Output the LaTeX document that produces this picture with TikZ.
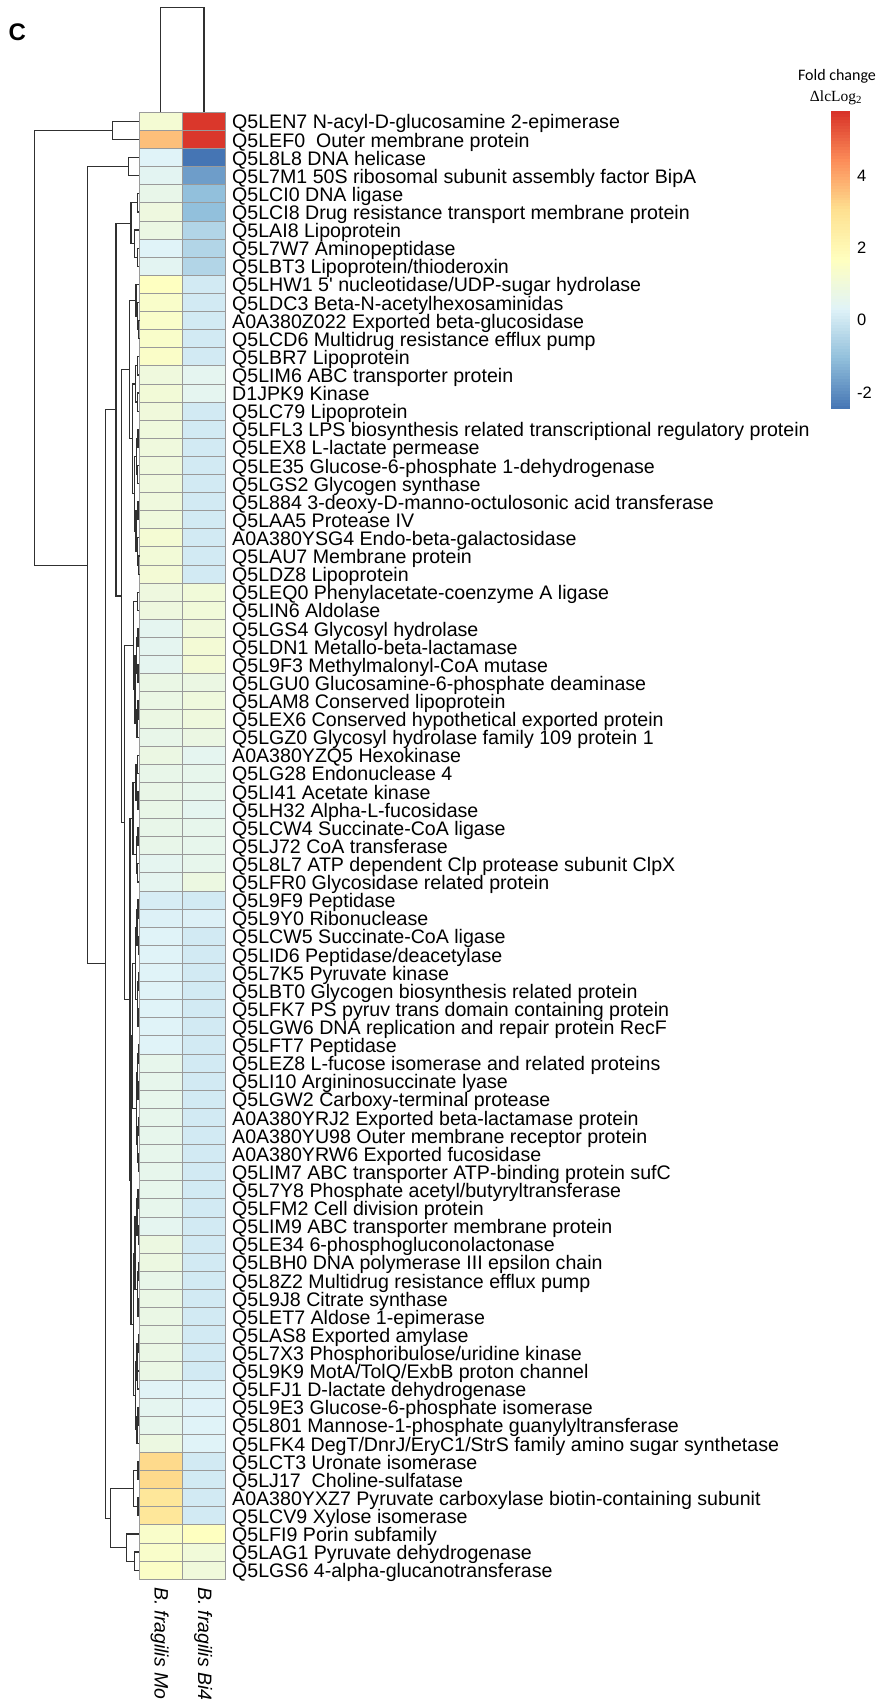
\documentclass[tikz,border=0pt]{standalone}
\usepackage{fontspec}
\setmainfont{Liberation Sans}
\newfontfamily\carl{Carlito}
\newfontfamily\lserif{Liberation Serif}
\usetikzlibrary{calc}

\definecolor{hc0}{HTML}{4575B4}
\definecolor{hc1}{HTML}{91BFDB}
\definecolor{hc2}{HTML}{E0F3F8}
\definecolor{hc3}{HTML}{FFFFBF}
\definecolor{hc4}{HTML}{FEE090}
\definecolor{hc5}{HTML}{FC8D59}
\definecolor{hc6}{HTML}{D73027}
\definecolor{cellline}{HTML}{9A9A9A}
\definecolor{dend}{HTML}{303030}

% value -> colour (palette spread over -2.45 .. 5.8)
\newcommand\valcol[2]{%
  \pgfmathsetmacro\hmt{max(0,min(5.999,(#1+2.45)/1.375))}%
  \pgfmathtruncatemacro\hmk{floor(\hmt)}%
  \pgfmathtruncatemacro\hmkk{\hmk+1}%
  \pgfmathsetmacro\hmp{100*(1-(\hmt-\hmk))}%
  \colorlet{#2}{hc\hmk!\hmp!hc\hmkk}%
}

\tikzset{
  cell/.style={draw=cellline, line width=0.9pt},
  rowlab/.style={anchor=base west, inner sep=0pt, font=\fontsize{19.6}{19.6}\selectfont},
  collab/.style={rotate=-90, anchor=base west, inner sep=0pt, font=\itshape\fontsize{19.4}{19.4}\selectfont},
  ticklab/.style={anchor=west, inner sep=0pt, font=\fontsize{16.5}{16.5}\selectfont},
  dendro/.style={draw=dend, line width=1.2pt},
}

\newcommand\hrow[4]{%
  \valcol{#2}{cola}\valcol{#3}{colb}%
  \path[cell, fill=cola] (139,{112.3+18.11*(#1-1)}) rectangle (182.3,{112.3+18.11*#1});
  \path[cell, fill=colb] (182.3,{112.3+18.11*(#1-1)}) rectangle (225.5,{112.3+18.11*#1});
  \node[rowlab] (lab#1) at (232,{112.3+18.11*(#1-0.5)+7.6}) {#4};
  \coordinate (L#1) at (139,{112.3+18.11*(#1-0.5)});
}

% merge: name, height, child a, child b
\newcommand\mg[4]{%
  \coordinate (#1m) at ($(#3)!0.5!(#4)$);
  \coordinate (#1x) at (#2,0);
  \coordinate (#1) at (#1m -| #1x);
  \draw[dendro] (#3) -- (#3 -| #1) -- (#4 -| #1) -- (#4);
}

\begin{document}
\begin{tikzpicture}[x=1pt,y=-1pt]
\fill[white] (0,0) rectangle (883,1700);
\useasboundingbox (0,0) rectangle (883,1700);

\node[anchor=base west, inner sep=0pt, font=\bfseries\fontsize{24}{24}\selectfont] (panel) at (8.5,40.3) {C};

\hrow{1}{1.2}{5.7}{Q5LEN7 N-acyl-D-glucosamine 2-epimerase}
\hrow{2}{3.6}{5.7}{Q5LEF0\ \ Outer membrane protein}
\hrow{3}{0.3}{-2.45}{Q5L8L8 DNA helicase}
\hrow{4}{0.45}{-1.7}{Q5L7M1 50S ribosomal subunit assembly factor BipA}
\hrow{5}{0.65}{-1.05}{Q5LCI0 DNA ligase}
\hrow{6}{0.9}{-1.05}{Q5LCI8 Drug resistance transport membrane protein}
\hrow{7}{0.8}{-0.5}{Q5LAI8 Lipoprotein}
\hrow{8}{0.3}{-0.5}{Q5L7W7 Aminopeptidase}
\hrow{9}{0.45}{-0.5}{Q5LBT3 Lipoprotein/thioderoxin}
\hrow{10}{1.62}{0.05}{Q5LHW1 5\textquotesingle\ nucleotidase/UDP-sugar hydrolase}
\hrow{11}{1.4}{0.05}{Q5LDC3 Beta-N-acetylhexosaminidas}
\hrow{12}{1.4}{0.05}{A0A380Z022 Exported beta-glucosidase}
\hrow{13}{1.4}{0.05}{Q5LCD6 Multidrug resistance efflux pump}
\hrow{14}{1.45}{0.05}{Q5LBR7 Lipoprotein}
\hrow{15}{0.95}{0.5}{Q5LIM6 ABC transporter protein}
\hrow{16}{1.1}{0.5}{D1JPK9 Kinase}
\hrow{17}{1.0}{0.05}{Q5LC79 Lipoprotein}
\hrow{18}{0.95}{0.05}{Q5LFL3 LPS biosynthesis related transcriptional regulatory protein}
\hrow{19}{0.95}{0.05}{Q5LEX8 L-lactate permease}
\hrow{20}{0.95}{0.05}{Q5LE35 Glucose-6-phosphate 1-dehydrogenase}
\hrow{21}{0.95}{0.05}{Q5LGS2 Glycogen synthase}
\hrow{22}{0.95}{0.05}{Q5L884 3-deoxy-D-manno-octulosonic acid transferase}
\hrow{23}{0.95}{0.05}{Q5LAA5 Protease IV}
\hrow{24}{1.2}{0.05}{A0A380YSG4 Endo-beta-galactosidase}
\hrow{25}{1.1}{0.05}{Q5LAU7 Membrane protein}
\hrow{26}{1.15}{0.05}{Q5LDZ8 Lipoprotein}
\hrow{27}{0.9}{1.05}{Q5LEQ0 Phenylacetate-coenzyme A ligase}
\hrow{28}{0.9}{1.05}{Q5LIN6 Aldolase}
\hrow{29}{0.5}{1.0}{Q5LGS4 Glycosyl hydrolase}
\hrow{30}{0.5}{1.15}{Q5LDN1 Metallo-beta-lactamase}
\hrow{31}{0.5}{1.15}{Q5L9F3 Methylmalonyl-CoA mutase}
\hrow{32}{0.75}{0.8}{Q5LGU0 Glucosamine-6-phosphate deaminase}
\hrow{33}{0.75}{0.95}{Q5LAM8 Conserved lipoprotein}
\hrow{34}{0.8}{0.95}{Q5LEX6 Conserved hypothetical exported protein}
\hrow{35}{0.65}{0.8}{Q5LGZ0 Glycosyl hydrolase family 109 protein 1}
\hrow{36}{0.8}{0.5}{A0A380YZQ5 Hexokinase}
\hrow{37}{0.65}{0.6}{Q5LG28 Endonuclease 4}
\hrow{38}{0.7}{0.6}{Q5LI41 Acetate kinase}
\hrow{39}{0.7}{0.5}{Q5LH32 Alpha-L-fucosidase}
\hrow{40}{0.65}{0.6}{Q5LCW4 Succinate-CoA ligase}
\hrow{41}{0.65}{0.6}{Q5LJ72 CoA transferase}
\hrow{42}{0.5}{0.6}{Q5L8L7 ATP dependent Clp protease subunit ClpX}
\hrow{43}{0.5}{0.85}{Q5LFR0 Glycosidase related protein}
\hrow{44}{0.15}{0.05}{Q5L9F9 Peptidase}
\hrow{45}{0.25}{0.25}{Q5L9Y0 Ribonuclease}
\hrow{46}{0.3}{0.05}{Q5LCW5 Succinate-CoA ligase}
\hrow{47}{0.3}{0.05}{Q5LID6 Peptidase/deacetylase}
\hrow{48}{0.3}{0.05}{Q5L7K5 Pyruvate kinase}
\hrow{49}{0.3}{0.05}{Q5LBT0 Glycogen biosynthesis related protein}
\hrow{50}{0.3}{0.05}{Q5LFK7 PS pyruv trans domain containing protein}
\hrow{51}{0.3}{0.05}{Q5LGW6 DNA replication and repair protein RecF}
\hrow{52}{0.3}{0.05}{Q5LFT7 Peptidase}
\hrow{53}{0.6}{0.05}{Q5LEZ8 L-fucose isomerase and related proteins}
\hrow{54}{0.6}{0.05}{Q5LI10 Argininosuccinate lyase}
\hrow{55}{0.6}{0.05}{Q5LGW2 Carboxy-terminal protease}
\hrow{56}{0.6}{0.05}{A0A380YRJ2 Exported beta-lactamase protein}
\hrow{57}{0.6}{0.05}{A0A380YU98 Outer membrane receptor protein}
\hrow{58}{0.6}{0.05}{A0A380YRW6 Exported fucosidase}
\hrow{59}{0.6}{0.05}{Q5LIM7 ABC transporter ATP-binding protein sufC}
\hrow{60}{0.6}{0.05}{Q5L7Y8 Phosphate acetyl/butyryltransferase}
\hrow{61}{0.6}{0.05}{Q5LFM2 Cell division protein}
\hrow{62}{0.5}{0.05}{Q5LIM9 ABC transporter membrane protein}
\hrow{63}{0.85}{0.05}{Q5LE34 6-phosphogluconolactonase}
\hrow{64}{0.85}{0.05}{Q5LBH0 DNA polymerase III epsilon chain}
\hrow{65}{0.65}{0.05}{Q5L8Z2 Multidrug resistance efflux pump}
\hrow{66}{0.75}{0.05}{Q5L9J8 Citrate synthase}
\hrow{67}{0.75}{0.05}{Q5LET7 Aldose 1-epimerase}
\hrow{68}{0.75}{0.05}{Q5LAS8 Exported amylase}
\hrow{69}{0.75}{0.05}{Q5L7X3 Phosphoribulose/uridine kinase}
\hrow{70}{0.75}{0.05}{Q5L9K9 MotA/TolQ/ExbB proton channel}
\hrow{71}{0.35}{0.25}{Q5LFJ1 D-lactate dehydrogenase}
\hrow{72}{0.5}{0.28}{Q5L9E3 Glucose-6-phosphate isomerase}
\hrow{73}{0.6}{0.3}{Q5L801 Mannose-1-phosphate guanylyltransferase}
\hrow{74}{0.85}{0.3}{Q5LFK4 DegT/DnrJ/EryC1/StrS family amino sugar synthetase}
\hrow{75}{3.15}{0.05}{Q5LCT3 Uronate isomerase}
\hrow{76}{3.15}{0.05}{Q5LJ17\ \ Choline-sulfatase}
\hrow{77}{2.75}{0.05}{A0A380YXZ7 Pyruvate carboxylase biotin-containing subunit}
\hrow{78}{2.75}{0.05}{Q5LCV9 Xylose isomerase}
\hrow{79}{1.4}{1.65}{Q5LFI9 Porin subfamily}
\hrow{80}{1.4}{1.05}{Q5LAG1 Pyruvate dehydrogenase}
\hrow{81}{1.5}{1.0}{Q5LGS6 4-alpha-glucanotransferase}

% column labels
\node[collab] (col1) at (154.5,1587) {B. fragilis Mo};
\node[collab] (col2) at (198,1587) {B. fragilis Bi4};

% column dendrogram
\coordinate (K1) at (160.7,112.3);
\coordinate (K2) at (204,112.3);
\coordinate (Ktop) at (0,7.3);
\draw[dendro] (K1) -- (K1 |- Ktop) -- (K2 |- Ktop) -- (K2);

% row dendrogram
\mg{m12}{112.3}{L1}{L2}
\mg{m34}{128.3}{L3}{L4}
\mg{m56}{137.3}{L5}{L6}
\mg{m89}{137.5}{L8}{L9}
\mg{m7n9}{134.3}{L7}{m89}
\mg{nA1}{131}{m56}{m7n9}
\mg{m1213}{138.5}{L12}{L13}
\mg{m11n13}{137.5}{L11}{m1213}
\mg{nA2a1}{136}{L10}{m11n13}
\mg{m1415}{137.3}{L14}{L15}
\mg{m1617}{137.8}{L16}{L17}
\mg{m14n17}{135.5}{m1415}{m1617}
\mg{m1819}{138}{L18}{L19}
\mg{m2021}{137.5}{L20}{L21}
\mg{m18n21}{136.5}{m1819}{m2021}
\mg{m2223}{138}{L22}{L23}
\mg{m2526}{138.5}{L25}{L26}
\mg{m24n26}{137.3}{L24}{m2526}
\mg{m22n26}{136}{m2223}{m24n26}
\mg{m18n26}{134.5}{m18n21}{m22n26}
\mg{nA2a2}{132.3}{m14n17}{m18n26}
\mg{nA2a}{129.3}{nA2a1}{nA2a2}
\mg{m2728}{137.5}{L27}{L28}
\mg{m2930}{138}{L29}{L30}
\mg{m3132}{138}{L31}{L32}
\mg{m29n32}{136.5}{m2930}{m3132}
\mg{m3334}{138}{L33}{L34}
\mg{m33n35}{137}{m3334}{L35}
\mg{nP2}{135}{m29n32}{m33n35}
\mg{nP}{133.3}{m2728}{nP2}
\mg{m3637}{137.5}{L36}{L37}
\mg{m3839}{138}{L38}{L39}
\mg{m36n39}{136}{m3637}{m3839}
\mg{m4041}{138}{L40}{L41}
\mg{m4243}{137.8}{L42}{L43}
\mg{m40n43}{136.5}{m4041}{m4243}
\mg{nQ1}{133}{m36n39}{m40n43}
\mg{m4445}{138}{L44}{L45}
\mg{m4647}{138.3}{L46}{L47}
\mg{m44n47}{137}{m4445}{m4647}
\mg{m4849}{138.3}{L48}{L49}
\mg{m5051}{138}{L50}{L51}
\mg{m48n51}{137.3}{m4849}{m5051}
\mg{nS1}{135.5}{m44n47}{m48n51}
\mg{m5253}{138.3}{L52}{L53}
\mg{m5455}{138}{L54}{L55}
\mg{m52n55}{137.5}{m5253}{m5455}
\mg{m5657}{138.3}{L56}{L57}
\mg{m5859}{138.3}{L58}{L59}
\mg{m56n59}{137.8}{m5657}{m5859}
\mg{nS2}{136.5}{m52n55}{m56n59}
\mg{nS}{132.5}{nS1}{nS2}
\mg{m6061}{138}{L60}{L61}
\mg{m6263}{138.3}{L62}{L63}
\mg{m60n63}{137}{m6061}{m6263}
\mg{m6465}{138.3}{L64}{L65}
\mg{m6667}{138}{L66}{L67}
\mg{m64n67}{137.5}{m6465}{m6667}
\mg{nR1}{135}{m60n63}{m64n67}
\mg{m6869}{138.3}{L68}{L69}
\mg{m7071}{137.5}{L70}{L71}
\mg{m68n71}{137}{m6869}{m7071}
\mg{m7273}{138}{L72}{L73}
\mg{m72n74}{137}{m7273}{L74}
\mg{nR2}{135.5}{m68n71}{m72n74}
\mg{nR}{133.3}{nR1}{nR2}
\mg{nQ2}{131}{nS}{nR}
\mg{nQ}{130}{nQ1}{nQ2}
\mg{nA2b}{124.3}{nP}{nQ}
\mg{nA2}{121.7}{nA2a}{nA2b}
\mg{nA}{116}{nA1}{nA2}
\mg{m7576}{138}{L75}{L76}
\mg{m7778}{138}{L77}{L78}
\mg{nB1}{133.3}{m7576}{m7778}
\mg{m8081}{134.3}{L80}{L81}
\mg{nB2}{126.7}{L79}{m8081}
\mg{nB}{110.7}{nB1}{nB2}
\mg{nC}{105.3}{nA}{nB}
\mg{nD}{87.3}{m34}{nC}
\mg{nRoot}{34.7}{m12}{nD}

% colour legend
\node[anchor=base, inner sep=0pt, font=\carl\fontsize{16}{16}\selectfont] (lt1) at (837,80.7) {Fold change};
\node[anchor=base, inner sep=0pt, font=\lserif\fontsize{15.5}{15.5}\selectfont] (lt2) at (836,101) {ΔlcLog\textsubscript{2}};
\foreach \k in {0,...,99}{
  \valcol{-2.45+8.25*(\k+0.5)/100}{barc}
  \fill[barc] (830.7,{408.3-2.973*\k+0.3}) rectangle (850,{408.3-2.973*(\k+1)});
}
\node[ticklab] (t4) at (857,176) {4};
\node[ticklab] (t2) at (857,248.2) {2};
\node[ticklab] (t0) at (857,320.3) {0};
\node[ticklab] (tm2) at (857,392.3) {-2};
\end{tikzpicture}
\end{document}
